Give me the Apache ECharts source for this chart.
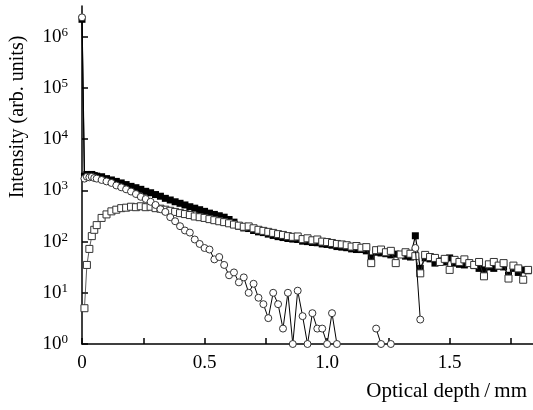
<!DOCTYPE html>
<html>
<head>
<meta charset="utf-8">
<script src="https://cdn.jsdelivr.net/npm/echarts@6/dist/echarts.min.js"></script>
<style>
html, body { margin: 0; padding: 0; background: #fff; }
#chart { width: 533px; height: 410px; }
</style>
</head>
<body>
<div id="chart"></div>
<script>
// optical depth (mm), shared by the three curves
var depth = [
    0, 0.01, 0.02, 0.03, 0.04, 0.05, 0.06, 0.08, 0.10, 0.12,
    0.14, 0.16, 0.18, 0.20, 0.22, 0.24, 0.26, 0.28, 0.30, 0.32,
    0.34, 0.36, 0.38, 0.40, 0.42, 0.44, 0.46, 0.48, 0.50, 0.52,
    0.54, 0.56, 0.58, 0.60, 0.62, 0.64, 0.66, 0.68, 0.70, 0.72,
    0.74, 0.76, 0.78, 0.80, 0.82, 0.84, 0.86, 0.88, 0.90, 0.92,
    0.94, 0.96, 0.98, 1.00, 1.02, 1.04, 1.06, 1.08, 1.10, 1.12,
    1.14, 1.16, 1.18, 1.20, 1.22, 1.24, 1.26, 1.28, 1.30, 1.32,
    1.34, 1.36, 1.38, 1.40, 1.42, 1.44, 1.46, 1.48, 1.50, 1.52,
    1.54, 1.56, 1.58, 1.60, 1.62, 1.64, 1.66, 1.68, 1.70, 1.72,
    1.74, 1.76, 1.78, 1.80, 1.82
];
// filled squares
var totalVals = [
    2200000, 1900, 2050, 1900, 2050, 1950, 1900, 1850, 1700, 1600,
    1500, 1400, 1300, 1200, 1130, 1050, 960, 900, 830, 770,
    700, 650, 600, 560, 520, 480, 450, 420, 390, 360,
    340, 320, 300, 270, 240, 200, 185, 180, 165, 155,
    150, 140, 132, 125, 120, 115, 112, 110, 102, 100,
    96, 95, 90, 88, 85, 80, 78, 76, 72, 70,
    70, 66, 48, 62, 60, 58, 55, 57, 56, 52,
    50, 130, 30, 48, 46, 38, 42, 40, 48, 38,
    36, 35, 38, 34, 30, 28, 32, 30, 33, 32,
    22, 30, 25, 28, 27
];
// open circles ('-' = nothing measured)
var ballisticVals = [
    2400000, 1700, 1850, 1800, 1850, 1750, 1700, 1600, 1500, 1400,
    1250, 1150, 1050, 950, 850, 750, 680, 600, 520, 430,
    380, 300, 250, 200, 165, 150, 110, 90, 75, 70,
    45, 50, 35, 22, 25, 16, 20, 10, 15, 8,
    6, 3.2, 10, 6, 2, 10, 1, 11, 3.5, 1,
    4, 2, 2, 1, 4, 1, '-', '-', '-', '-',
    '-', '-', '-', 2, 1, '-', 1, '-', '-', '-',
    '-', 75, 3, '-', '-', '-', '-', '-', '-', '-',
    '-', '-', '-', '-', '-', '-', '-', '-', '-', '-',
    '-', '-', '-', '-', '-'
];
// open squares
var diffuseVals = [
    '-', 5, 35, 72, 128, 170, 210, 290, 340, 390,
    420, 450, 460, 480, 470, 490, 470, 480, 450, 440,
    420, 400, 380, 360, 345, 330, 310, 300, 290, 275,
    262, 250, 240, 228, 215, 205, 195, 198, 182, 170,
    162, 155, 148, 140, 135, 128, 124, 126, 112, 116,
    106, 110, 100, 98, 94, 90, 88, 85, 80, 82,
    76, 78, 38, 68, 70, 62, 66, 38, 56, 62,
    58, 52, 24, 55, 50, 48, 40, 46, 28, 44,
    40, 45, 38, 35, 40, 21, 36, 40, 34, 38,
    19, 34, 30, 18, 28
];
var xTicks = [0, 0.25, 0.5, 0.75, 1.0, 1.25, 1.5, 1.75];
var xLabels = [0, 0.5, 1.0, 1.5];
var yTicks = [1, 10, 100, 1000, 10000, 100000, 1000000];

var font = '"Liberation Serif", "Times New Roman", serif';

function pairs(vals) {
    var out = [];
    for (var i = 0; i < depth.length; i++) {
        out.push([depth[i], vals[i]]);
    }
    return out;
}

var chart = echarts.init(document.getElementById('chart'));
chart.setOption({
    animation: false,
    backgroundColor: '#fff',
    grid: { left: 82, right: 0, top: 6, bottom: 66 },
    xAxis: {
        type: 'value',
        min: 0,
        max: 1.84,
        axisLine: { lineStyle: { color: '#000', width: 1.5 } },
        axisTick: { inside: true, length: 6, customValues: xTicks, lineStyle: { color: '#000', width: 1.5 } },
        axisLabel: {
            customValues: xLabels,
            color: '#000',
            fontFamily: font,
            fontSize: 19,
            margin: 10,
            formatter: function(v) { return v === 0 ? '0' : v.toFixed(1); }
        },
        splitLine: { show: false }
    },
    yAxis: {
        type: 'log',
        logBase: 10,
        min: 1,
        max: 4000000,
        axisLine: { show: true, lineStyle: { color: '#000', width: 1.5 } },
        axisTick: { show: true, inside: true, length: 6, customValues: yTicks, lineStyle: { color: '#000', width: 1.5 } },
        axisLabel: {
            customValues: yTicks,
            margin: 14,
            formatter: function(v) {
                return '{b|10}{e|' + Math.round(Math.log(v) / Math.LN10) + '}';
            },
            rich: {
                b: { fontFamily: font, fontSize: 19, color: '#000', lineHeight: 22 },
                e: { fontFamily: font, fontSize: 13, color: '#000', verticalAlign: 'top', lineHeight: 22, padding: [0, 0, 9, 0] }
            }
        },
        splitLine: { show: false }
    },
    graphic: [{
        type: 'text',
        x: 18,
        y: 117,
        rotation: Math.PI / 2,
        style: { text: 'Intensity (arb. units)', fontFamily: font, fontSize: 20, fill: '#000', align: 'center', verticalAlign: 'middle' }
    }, {
        type: 'text',
        x: 527,
        y: 391,
        style: { text: 'Optical depth\u2009/\u2009mm', fontFamily: font, fontSize: 21, fill: '#000', align: 'right', verticalAlign: 'middle' }
    }],
    series: [{
        name: 'total',
        type: 'line',
        data: pairs(totalVals),
        symbol: 'rect',
        symbolSize: 7,
        showAllSymbol: true,
        itemStyle: { color: '#000' },
        lineStyle: { color: '#000', width: 1.2 },
        z: 2
    }, {
        name: 'diffuse',
        type: 'line',
        data: pairs(diffuseVals),
        symbol: 'rect',
        symbolSize: 7,
        showAllSymbol: true,
        itemStyle: { color: '#fff', borderColor: '#333', borderWidth: 1 },
        lineStyle: { color: '#333', width: 0.8 },
        z: 3
    }, {
        name: 'ballistic',
        type: 'line',
        data: pairs(ballisticVals),
        symbol: 'circle',
        symbolSize: 7,
        showAllSymbol: true,
        connectNulls: false,
        itemStyle: { color: '#fff', borderColor: '#333', borderWidth: 1 },
        lineStyle: { color: '#000', width: 1 },
        z: 4
    }]
});
</script>
</body>
</html>
